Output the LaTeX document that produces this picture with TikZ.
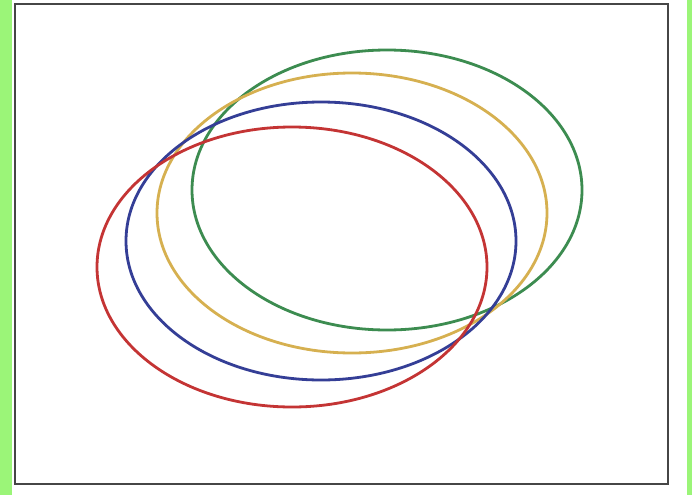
\documentclass[tikz,border=0pt]{standalone}
\usepackage{xcolor}
\usepackage{tikz}
\usetikzlibrary{calc}

\definecolor{bggreen}{RGB}{155,245,120}
\definecolor{framegray}{RGB}{70,70,70}
\definecolor{ringred}{RGB}{196,52,52}
\definecolor{ringblue}{RGB}{52,62,150}
\definecolor{ringyellow}{RGB}{214,176,80}
\definecolor{ringgreen}{RGB}{60,140,80}

\begin{document}
\begin{tikzpicture}[x=1pt, y=-1pt]

% --- Styles ---
\tikzset{
    ring/.style={line width=2.8pt},
    framebox/.style={draw=framegray, line width=2pt},
}

% --- Canvas and side strips ---
\useasboundingbox (0,0) rectangle (692,495);
\fill[white] (0,0) rectangle (692,495);
\fill[bggreen] (0,0) rectangle (12,495);
\fill[bggreen] (687,0) rectangle (692,495);
\draw[framebox] (15,4) rectangle (668,484);

% --- Rings (back to front) ---
\draw[ring, draw=ringgreen]  (387,190) ellipse [x radius=195, y radius=140];
\draw[ring, draw=ringyellow] (352,213) ellipse [x radius=195, y radius=140];
\draw[ring, draw=ringblue]   (321,241) ellipse [x radius=195, y radius=139];
\draw[ring, draw=ringred]    (292,267) ellipse [x radius=195, y radius=140];

\end{tikzpicture}
\end{document}
